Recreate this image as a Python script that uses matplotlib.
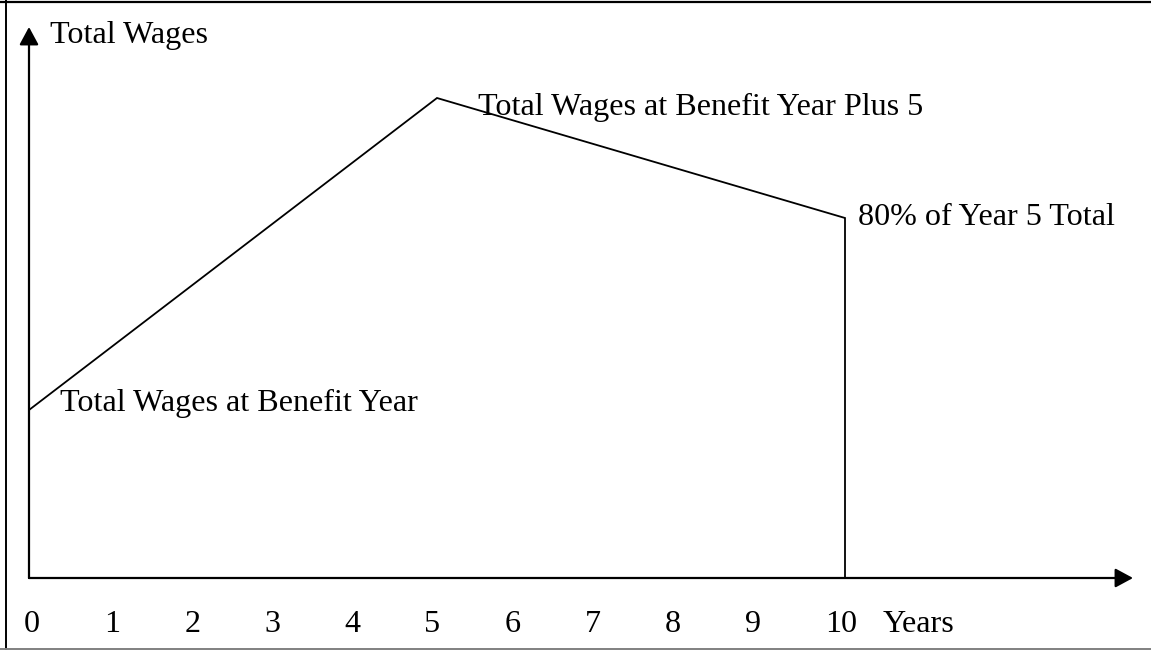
import matplotlib
matplotlib.use("Agg")
import matplotlib.pyplot as plt
from matplotlib.lines import Line2D

# ---- data ----
years = [0, 5, 10, 10]
wages = [35, 100, 75, 0]
tick_years = list(range(0, 11))
tick_labels = [str(y) for y in tick_years]
y_axis_label = "Total Wages"
x_axis_label = "Years"
label_start = "Total Wages at Benefit Year"
label_peak = "Total Wages at Benefit Year Plus 5"
label_end = "80% of Year 5 Total"

# ---- layout (pixel geometry of the reference) ----
W, H, DPI = 1151, 650, 100
x0_px, px_per_year = 29, 81.6
base_px, px_per_unit = 578, 4.8
label_left_px, label_pitch_px = 24, 80.1

fig = plt.figure(figsize=(W / DPI, H / DPI), dpi=DPI)
ax = fig.add_axes([0, 0, 1, 1])
ax.set_xlim(-x0_px / px_per_year, (W - x0_px) / px_per_year)
ax.set_ylim(-(H - base_px) / px_per_unit, base_px / px_per_unit)
ax.axis("off")

font = dict(family=["Liberation Serif", "DejaVu Serif"], size=23.1, color="black")

# axes with arrows
y_top = (base_px - 27) / px_per_unit
x_right = (1133 - x0_px) / px_per_year
arrow = dict(arrowstyle="-|>,head_length=0.5,head_width=0.27", mutation_scale=21.6,
             lw=1.6, color="black", shrinkA=0, shrinkB=0)
ax.annotate("", xy=(0, y_top), xytext=(0, 0), arrowprops=arrow)
ax.annotate("", xy=(x_right, 0), xytext=(0, 0), arrowprops=arrow)

# data line
ax.plot([0] + years, [0] + wages, color="black", lw=1.3, solid_joinstyle="miter")

# annotations
ax.annotate(label_start, xy=(years[0], wages[0]), xytext=(31, -1),
            textcoords="offset pixels", ha="left", va="baseline", **font)
ax.annotate(label_peak, xy=(years[1], wages[1]), xytext=(41, -17),
            textcoords="offset pixels", ha="left", va="baseline", **font)
ax.annotate(label_end, xy=(years[2], wages[2]), xytext=(13, -7),
            textcoords="offset pixels", ha="left", va="baseline", **font)
ax.annotate(y_axis_label, xy=(0, y_top), xytext=(21, -16),
            textcoords="offset pixels", ha="left", va="baseline", **font)

# tick labels (left-aligned on tab stops, as in the reference)
y_lab = (base_px - 632) / px_per_unit
for yr, lab in zip(tick_years, tick_labels):
    dx = (label_left_px + label_pitch_px * yr) - (x0_px + px_per_year * yr)
    ax.annotate(lab, xy=(yr, y_lab), xytext=(dx, 0), textcoords="offset pixels",
                ha="left", va="baseline", **font)
ax.text((883 - x0_px) / px_per_year, y_lab, x_axis_label, ha="left", va="baseline", **font)

# outer frame (left, top, bottom; right edge cut off)
fig.add_artist(Line2D([5.5 / W, 5.5 / W], [0, 1], transform=fig.transFigure, color="black", lw=1.4))
fig.add_artist(Line2D([0, 1], [1 - 1.5 / H, 1 - 1.5 / H], transform=fig.transFigure, color="black", lw=1.6))
fig.add_artist(Line2D([0, 1], [1 - 648.5 / H, 1 - 648.5 / H], transform=fig.transFigure, color="#808080", lw=1.4))

fig.savefig("out.png", dpi=DPI)
